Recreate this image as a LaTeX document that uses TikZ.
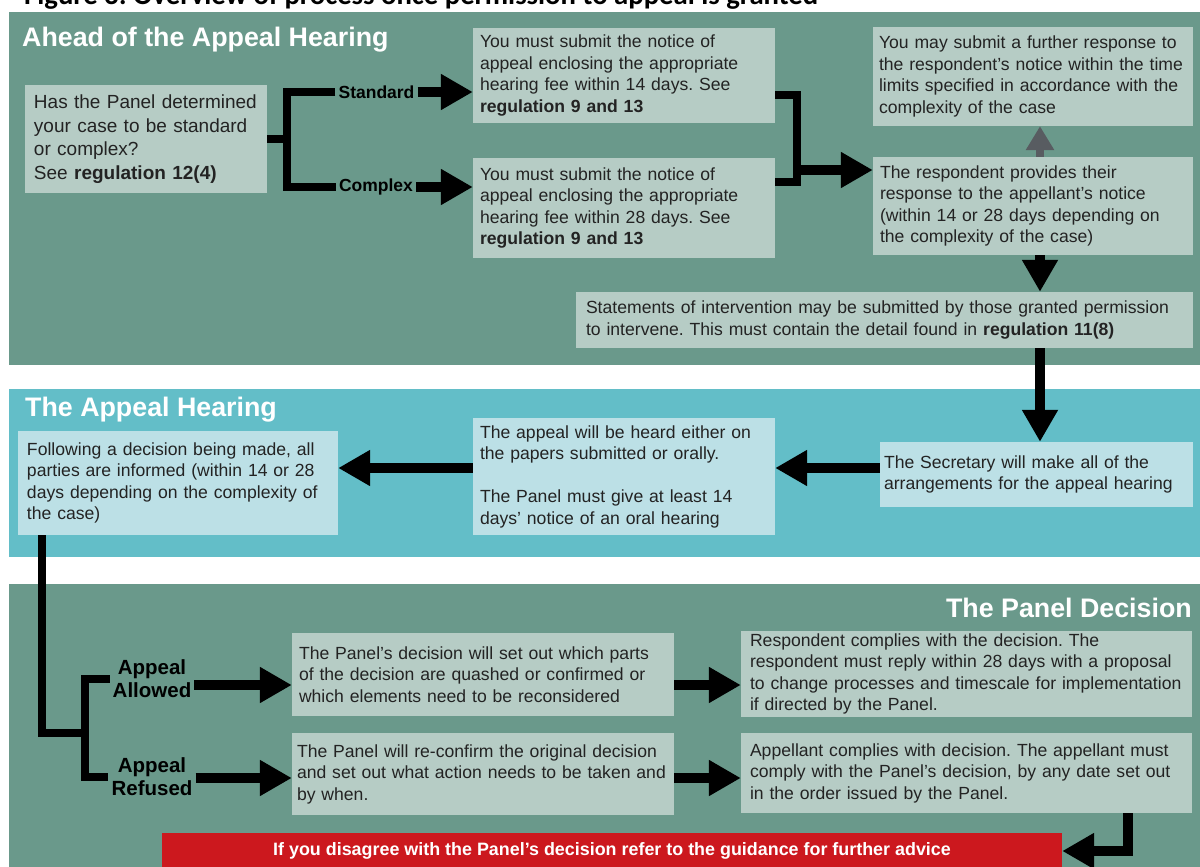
\documentclass[tikz,border=0pt]{standalone}
\usepackage{fontspec}
\setmainfont{Liberation Sans}
\newfontfamily\capfont{Carlito}
\usetikzlibrary{arrows.meta}
\frenchspacing
\hyphenpenalty=10000
\exhyphenpenalty=10000
\definecolor{secgreen}{RGB}{106,153,139}
\definecolor{seccyan}{RGB}{99,190,200}
\definecolor{boxgreen}{RGB}{182,204,197}
\definecolor{boxcyan}{RGB}{188,224,230}
\definecolor{warnred}{RGB}{204,24,30}
\definecolor{arrgray}{RGB}{88,92,97}
\definecolor{textgray}{RGB}{35,35,35}
\tikzstyle{box}=[inner xsep=7pt, inner ysep=3pt, align=left, text=textgray, font=\fontsize{17.6}{21.5}\selectfont]
\tikzstyle{gbox}=[box, fill=boxgreen]
\tikzstyle{cbox}=[box, fill=boxcyan]
\tikzstyle{heading}=[inner sep=0pt, text=white, font=\fontsize{26.8}{30}\selectfont\bfseries]
\tikzstyle{branch}=[inner sep=3pt, align=center, text=black, font=\fontsize{17.5}{20}\selectfont\bfseries]
\tikzstyle{verdict}=[branch, font=\fontsize{20.5}{23}\selectfont\bfseries]
\tikzstyle{arr}=[line width=10pt, -{Triangle[length=32pt,width=34pt]}]
\tikzstyle{grayarr}=[line width=8pt, color=arrgray, -{Triangle[length=24pt,width=27pt]}]
\tikzstyle{bracket}=[line width=8pt]

\begin{document}
\begin{tikzpicture}[x=1pt, y=-1pt]
\useasboundingbox (0, 0) rectangle (1200, 867);
\fill[white] (0, 0) rectangle (1200, 867);
\node[anchor=base west, inner sep=0pt, font=\capfont\bfseries\fontsize{28.7}{30}\selectfont] at (24, 5) (cap) {Figure 3: Overview of process once permission to appeal is granted};
\fill[secgreen] (9, 12) rectangle (1200, 365);
\fill[seccyan] (9, 389) rectangle (1200, 557);
\fill[secgreen] (9, 584) rectangle (1200, 867);

\node[heading, anchor=west] at (22, 40) (h1) {Ahead of the Appeal Hearing};
\node[heading, anchor=west] at (25, 410) (h2) {The Appeal Hearing};
\node[heading, anchor=east] at (1192, 608) (h3) {The Panel Decision};

\node[gbox, inner xsep=9pt, text width=224pt, minimum height=108pt, font=\fontsize{19}{23.5}\selectfont] at (146, 139) (q) {Has the Panel determined\\your case to be standard\\or complex?\\See \textbf{regulation 12(4)}};
\node[branch] at (376.5, 92) (lstd) {Standard};
\node[branch] at (376, 187) (lcpx) {Complex};
\node[gbox, text width=288pt, minimum height=95pt] at (624, 75.5) (std) {You must submit the notice of\\appeal enclosing the appropriate\\hearing fee within 14 days. See\\\textbf{regulation 9 and 13}};
\node[gbox, text width=288pt, minimum height=100pt] at (624, 208) (cpx) {You must submit the notice of\\appeal enclosing the appropriate\\hearing fee within 28 days. See\\\textbf{regulation 9 and 13}};
\node[gbox, inner xsep=6pt, text width=308pt, minimum height=99pt] at (1033, 76.5) (further) {You may submit a further response to\\the respondent’s notice within the time\\limits specified in accordance with the\\complexity of the case};
\node[gbox, text width=306pt, minimum height=98pt] at (1033, 206) (resp) {The respondent provides their\\response to the appellant’s notice\\(within 14 or 28 days depending on\\the complexity of the case)};
\node[gbox, inner xsep=10pt, text width=597pt, minimum height=56pt] at (884.5, 320) (stmt) {Statements of intervention may be submitted by those granted permission\\to intervene. This must contain the detail found in \textbf{regulation 11(8)}};

\node[cbox, inner xsep=9pt, text width=302pt, minimum height=104pt] at (178, 483) (foll) {Following a decision being made, all\\parties are informed (within 14 or 28\\days depending on the complexity of\\the case)};
\node[cbox, text width=288pt, minimum height=117pt] at (624, 476.5) (heard) {The appeal will be heard either on\\the papers submitted or orally.\\[21.5pt]The Panel must give at least 14\\days’ notice of an oral hearing};
\node[cbox, inner xsep=4pt, text width=305pt, minimum height=65pt] at (1036.5, 474.5) (sec) {The Secretary will make all of the\\arrangements for the appeal hearing};

\node[verdict] at (152, 679) (lall) {Appeal\\Allowed};
\node[verdict] at (152, 777) (lref) {Appeal\\Refused};
\node[gbox, text width=368pt, minimum height=83pt] at (483, 674.5) (allw) {The Panel’s decision will set out which parts\\of the decision are quashed or confirmed or\\which elements need to be reconsidered};
\node[gbox, inner xsep=5pt, text width=372pt, minimum height=82pt] at (483, 774) (refu) {The Panel will re-confirm the original decision\\and set out what action needs to be taken and\\by when.};
\node[gbox, inner xsep=9pt, text width=433pt, minimum height=84pt] at (966.5, 674) (rcomp) {Respondent complies with the decision. The\\respondent must reply within 28 days with a proposal\\to change processes and timescale for implementation\\if directed by the Panel.};
\node[gbox, inner xsep=9pt, text width=433pt, minimum height=80pt] at (966.5, 773) (acomp) {Appellant complies with decision. The appellant must\\comply with the Panel’s decision, by any date set out\\in the order issued by the Panel.};
\node[fill=warnred, text=white, minimum width=900pt, minimum height=36pt, inner sep=0pt, font=\fontsize{17.9}{20}\selectfont\bfseries] at (612, 851) (warn) {If you disagree with the Panel’s decision refer to the guidance for further advice};

\coordinate (qfork) at (287, 139);
\coordinate (jtop) at (797, 95);
\coordinate (jbot) at (797, 182);
\coordinate (jout) at (797, 170);
\coordinate (col) at (1040, 0);
\coordinate (row) at (0, 468);
\coordinate (dcol) at (42, 733);
\coordinate (bfork) at (85, 733);
\coordinate (rowa) at (0, 685);
\coordinate (rowb) at (0, 778);
\coordinate (ecol) at (1128, 0);

\draw[bracket] (q.east) -- (qfork);
\draw[bracket] (lstd.west) -| (qfork) |- (lcpx.west);
\draw[arr] (lstd.east) -- (lstd.east -| std.west);
\draw[arr] (lcpx.east) -- (lcpx.east -| cpx.west);
\draw[bracket] (std.east |- jtop) -- (jtop) -- (jbot) -- (cpx.east |- jbot);
\draw[arr] (jout) -- (jout -| resp.west);
\draw[grayarr] (resp.north -| col) -- (further.south -| col);
\draw[arr] (resp.south -| col) -- (stmt.north -| col);
\draw[arr] (stmt.south -| col) -- (sec.north -| col);
\draw[arr] (sec.west |- row) -- (heard.east |- row);
\draw[arr] (heard.west |- row) -- (foll.east |- row);
\draw[bracket] (foll.south -| dcol) |- (bfork);
\draw[bracket] (lall.west) -| (bfork) |- (lref.west);
\draw[arr] (lall.east |- rowa) -- (allw.west |- rowa);
\draw[arr] (lref.east |- rowb) -- (refu.west |- rowb);
\draw[arr] (allw.east |- rowa) -- (rcomp.west |- rowa);
\draw[arr] (refu.east |- rowb) -- (acomp.west |- rowb);
\draw[arr] (acomp.south -| ecol) |- (warn.east);
\end{tikzpicture}
\end{document}
